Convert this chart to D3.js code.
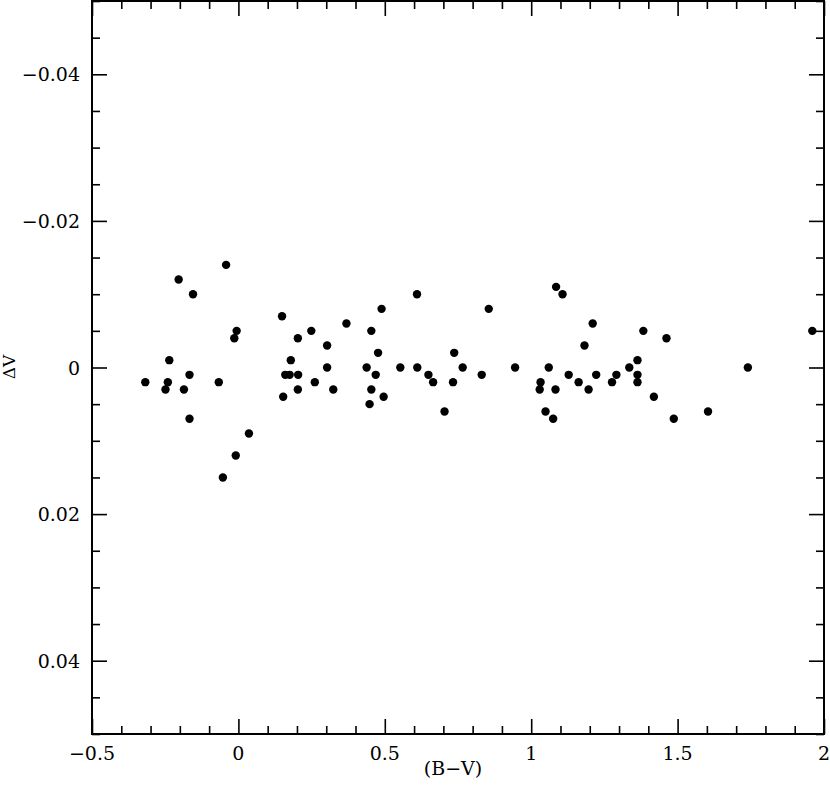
<!DOCTYPE html>
<html>
<head>
<meta charset="utf-8">
<script src="https://cdn.jsdelivr.net/npm/d3@7"></script>
<style>
  body { margin: 0; background: #fff; }
  text { font-family: "DejaVu Serif", "Liberation Serif", serif; }
</style>
</head>
<body>
<div id="chart"></div>
<script>
// colour index (B-V) and magnitude difference
var bv = [-0.318, -0.249, -0.241, -0.236, -0.186, -0.167, -0.167, -0.204, -0.155, -0.042,
          -0.067, -0.006, -0.014, 0.036, -0.009, -0.053, 0.149, 0.179, 0.153, 0.203,
          0.249, 0.160, 0.175, 0.204, 0.203, 0.261, 0.303, 0.303, 0.324, 0.369,
          0.438, 0.454, 0.477, 0.469, 0.454, 0.448, 0.496, 0.489, 0.610, 0.553,
          0.611, 0.649, 0.665, 0.704, 0.737, 0.766, 0.733, 0.831, 0.855, 0.945,
          1.085, 1.107, 1.210, 1.182, 1.383, 1.462, 1.060, 1.032, 1.029, 1.083,
          1.128, 1.162, 1.196, 1.222, 1.276, 1.291, 1.335, 1.363, 1.363, 1.363,
          1.419, 1.049, 1.075, 1.487, 1.604, 1.740, 1.960];
var dv = [0.002, 0.003, 0.002, -0.001, 0.003, 0.001, 0.007, -0.012, -0.010, -0.014,
          0.002, -0.005, -0.004, 0.009, 0.012, 0.015, -0.007, -0.001, 0.004, -0.004,
          -0.005, 0.001, 0.001, 0.001, 0.003, 0.002, -0.003, 0, 0.003, -0.006,
          0, -0.005, -0.002, 0.001, 0.003, 0.005, 0.004, -0.008, -0.010, 0,
          0, 0.001, 0.002, 0.006, -0.002, 0, 0.002, 0.001, -0.008, 0,
          -0.011, -0.010, -0.006, -0.003, -0.005, -0.004, 0, 0.002, 0.003, 0.003,
          0.001, 0.002, 0.003, 0.001, 0.002, 0.001, 0, -0.001, 0.001, 0.002,
          0.004, 0.006, 0.007, 0.007, 0.006, 0, -0.005];

var xMajor = [-0.5, 0, 0.5, 1, 1.5, 2];
var xLabels = ["\u22120.5", "0", "0.5", "1", "1.5", "2"];
var yMajor = [-0.04, -0.02, 0, 0.02, 0.04];
var yLabels = ["\u22120.04", "\u22120.02", "0", "0.02", "0.04"];

var width = 830, height = 791;
var pLeft = 92, pRight = 824, pTop = 1, pBottom = 734;

var svg = d3.select("#chart").append("svg")
    .attr("width", width)
    .attr("height", height);

var x = d3.scaleLinear().domain([-0.5, 2]).range([pLeft, pRight]);
var y = d3.scaleLinear().domain([-0.05, 0.05]).range([pTop, pBottom]);

var xMinor = d3.range(-5, 21).map(function(i){ return i / 10; }).filter(function(v){ return Math.abs(v * 2 - Math.round(v * 2)) > 1e-6; });
var yMinor = d3.range(-10, 11).map(function(i){ return i * 0.005; }).filter(function(v){ return Math.abs(v / 0.02 - Math.round(v / 0.02)) > 1e-6; });

function drawTicks(g, fn, t, vals, len) {
    g.append("g").attr("transform", t).call(fn.tickValues(vals).tickSize(len).tickFormat(""))
        .call(function(s){ s.select(".domain").remove(); })
        .selectAll("line").attr("stroke", "#000").attr("stroke-width", 1.6);
}

var ax = svg.append("g");
var axes = [
    {fn: function(){ return d3.axisTop(x); }, t: "translate(0," + pBottom + ")", maj: xMajor, min: xMinor},
    {fn: function(){ return d3.axisBottom(x); }, t: "translate(0," + pTop + ")", maj: xMajor, min: xMinor},
    {fn: function(){ return d3.axisRight(y); }, t: "translate(" + pLeft + ",0)", maj: yMajor, min: yMinor},
    {fn: function(){ return d3.axisLeft(y); }, t: "translate(" + pRight + ",0)", maj: yMajor, min: yMinor}
];
axes.forEach(function(a){
    drawTicks(ax, a.fn(), a.t, a.maj, 15);
    drawTicks(ax, a.fn(), a.t, a.min, 8);
});

svg.append("rect")
    .attr("x", pLeft).attr("y", pTop)
    .attr("width", pRight - pLeft).attr("height", pBottom - pTop)
    .attr("fill", "none").attr("stroke", "#000").attr("stroke-width", 2);

// tick labels
svg.selectAll(".xl").data(xMajor).enter().append("text")
    .attr("class", "xl")
    .attr("x", function(d){ return x(d); })
    .attr("y", 760)
    .attr("text-anchor", "middle")
    .attr("font-size", "19px")
    .text(function(d, i){ return xLabels[i]; });

svg.selectAll(".yl").data(yMajor).enter().append("text")
    .attr("class", "yl")
    .attr("x", 80)
    .attr("y", function(d){ return y(d) + 7; })
    .attr("text-anchor", "end")
    .attr("font-size", "19px")
    .text(function(d, i){ return yLabels[i]; });

svg.append("text")
    .attr("x", 453).attr("y", 775)
    .attr("text-anchor", "middle")
    .attr("font-size", "19px")
    .text("(B\u2212V)");

svg.append("text")
    .attr("transform", "translate(15,367) rotate(-90)")
    .attr("text-anchor", "middle")
    .attr("font-size", "17px")
    .text("\u0394V");

var pts = bv.map(function(v, i){ return {bv: v, dv: dv[i]}; });
svg.selectAll(".pt").data(pts).enter().append("circle")
    .attr("class", "pt")
    .attr("cx", function(d){ return x(d.bv); })
    .attr("cy", function(d){ return y(d.dv); })
    .attr("r", 4.2)
    .attr("fill", "#000");
</script>
</body>
</html>
